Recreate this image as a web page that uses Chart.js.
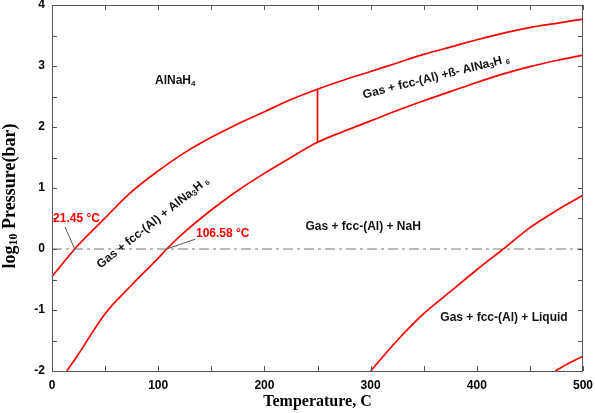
<!DOCTYPE html>
<html lang="en">
<head>
  <meta charset="UTF-8" />
  <title>AlNaH4 phase diagram</title>
  <script src="https://cdn.jsdelivr.net/npm/chart.js"></script>
  <style>
    body { margin: 0; background: #fff; }
    #wrap { width: 595px; height: 413px; }
  </style>
</head>
<body>
  <div id="wrap"><canvas id="chart" width="595" height="413"></canvas></div>

  <script>
    // boundary curves, temperature (C) vs log10 pressure (bar)
    const upperTemp = [0, 21.45, 25, 50, 75, 100, 125, 150, 175, 200, 225, 250, 275, 300, 325, 350, 375, 400, 425, 450, 475, 500];
    const upperLogP = [-0.45, 0, 0.07, 0.51, 0.94, 1.28, 1.58, 1.83, 2.05, 2.25, 2.45, 2.62, 2.77, 2.91, 3.05, 3.19, 3.31, 3.43, 3.54, 3.63, 3.70, 3.77];

    const lowerTemp = [14, 25, 50, 75, 100, 108, 125, 150, 175, 200, 225, 250, 275, 300, 325, 350, 375, 400, 425, 450, 475, 500];
    const lowerLogP = [-2.0, -1.72, -1.06, -0.59, -0.15, 0, 0.28, 0.64, 0.96, 1.24, 1.5, 1.75, 1.93, 2.1, 2.27, 2.43, 2.58, 2.73, 2.87, 2.99, 3.09, 3.18];

    const liquidTemp = [300, 325, 350, 375, 400, 425, 450, 475, 500];
    const liquidLogP = [-2.0, -1.5, -1.06, -0.7, -0.34, 0, 0.35, 0.63, 0.88];

    const cornerTemp = [474, 487, 500];
    const cornerLogP = [-2.0, -1.87, -1.76];

    const betaTemp = [250, 250];
    const betaLogP = [1.75, 2.62];

    const refTemp = [0, 500];
    const refLogP = [0, 0];

    const xTicks = [0, 100, 200, 300, 400, 500];
    const yTicks = [-2, -1, 0, 1, 2, 3, 4];

    // callouts: label anchor and leader line ends, in data units
    const callouts = [
      { text: "21.45 °C", at: [1, 0.49], from: [12.2, 0.36], to: [21.45, 0] },
      { text: "106.58 °C", at: [135.6, 0.25], from: [134.7, 0.16], to: [108, 0] }
    ];

    const pts = (xs, ys) => xs.map((x, i) => ({ x: x, y: ys[i] }));
    const RED = "#ff0000";
    const SANS = "'Liberation Sans', Arial, sans-serif";
    const SERIF = "'Liberation Serif', 'Times New Roman', serif";

    function curve(xs, ys) {
      return {
        data: pts(xs, ys),
        showLine: true,
        borderColor: RED,
        borderWidth: 1.7,
        pointRadius: 0,
        cubicInterpolationMode: "monotone"
      };
    }

    function drawRich(ctx, parts, x, y, angle, size, align) {
      ctx.save();
      ctx.translate(x, y);
      ctx.rotate(angle * Math.PI / 180);
      ctx.textBaseline = "middle";
      ctx.textAlign = "left";
      const widths = parts.map(p => {
        ctx.font = "bold " + (p.size || size) + "px " + (p.family || SANS);
        return ctx.measureText(p.t).width;
      });
      const total = widths.reduce((a, b) => a + b, 0);
      let cx = align === "left" ? 0 : -total / 2;
      parts.forEach((p, i) => {
        ctx.font = "bold " + (p.size || size) + "px " + (p.family || SANS);
        ctx.fillText(p.t, cx, p.dy || 0);
        cx += widths[i];
      });
      ctx.restore();
    }

    const decor = {
      id: "decor",
      afterDatasetsDraw(chart) {
        const { ctx, chartArea: a, scales: { x, y } } = chart;
        ctx.save();
        // frame
        ctx.strokeStyle = "#555";
        ctx.lineWidth = 1;
        ctx.strokeRect(a.left + 0.5, a.top + 0.5, a.right - a.left - 1, a.bottom - a.top);
        // inward ticks on all four sides
        ctx.beginPath();
        for (let v = x.min; v <= x.max; v += 50) {
          const px = Math.round(x.getPixelForValue(v)) + 0.5;
          ctx.moveTo(px, a.bottom); ctx.lineTo(px, a.bottom - 5);
          ctx.moveTo(px, a.top); ctx.lineTo(px, a.top + 5);
        }
        for (let v = y.min; v <= y.max; v += 0.5) {
          const py = Math.round(y.getPixelForValue(v)) + 0.5;
          ctx.moveTo(a.left, py); ctx.lineTo(a.left + 5, py);
          ctx.moveTo(a.right, py); ctx.lineTo(a.right - 5, py);
        }
        ctx.stroke();

        // leader lines
        ctx.strokeStyle = "#555";
        ctx.beginPath();
        callouts.forEach(c => {
          ctx.moveTo(x.getPixelForValue(c.from[0]), y.getPixelForValue(c.from[1]));
          ctx.lineTo(x.getPixelForValue(c.to[0]), y.getPixelForValue(c.to[1]));
        });
        ctx.stroke();

        // callout text
        ctx.fillStyle = RED;
        callouts.forEach(c => {
          drawRich(ctx, [{ t: c.text }], x.getPixelForValue(c.at[0]), y.getPixelForValue(c.at[1]), 0, 12, "left");
        });

        // phase region labels
        ctx.fillStyle = "#111";
        drawRich(ctx, [{ t: "AlNaH" }, { t: "4", size: 8, dy: 3 }],
          x.getPixelForValue(97), y.getPixelForValue(2.76), 0, 12, "left");
        drawRich(ctx, [{ t: "Gas + fcc-(Al) +ß- AlNa" }, { t: "3", size: 8, dy: 3 }, { t: "H " }, { t: "6", size: 7, dy: 3 }],
          x.getPixelForValue(361.6), y.getPixelForValue(2.82), -14, 12);
        drawRich(ctx, [{ t: "Gas + fcc-(Al) + AlNa" }, { t: "3", size: 8, dy: 3 }, { t: "H " }, { t: "6", size: 7, dy: 3 }],
          x.getPixelForValue(95), y.getPixelForValue(0.43), -38.5, 12);
        drawRich(ctx, [{ t: "Gas + fcc-(Al) + NaH" }],
          x.getPixelForValue(293), y.getPixelForValue(0.36), 0, 12);
        drawRich(ctx, [{ t: "Gas + fcc-(Al) + Liquid" }],
          x.getPixelForValue(425.6), y.getPixelForValue(-1.13), 0, 12);

        // axis titles
        ctx.fillStyle = "#000";
        drawRich(ctx, [{ t: "Temperature, C", family: SERIF }],
          (a.left + a.right) / 2, 402, 0, 16);
        drawRich(ctx, [{ t: "log", family: SERIF }, { t: "10", family: SERIF, size: 12, dy: 4 }, { t: " Pressure(bar)", family: SERIF }],
          10, 196, -90, 18);
        ctx.restore();
      }
    };

    const refLine = {
      data: pts(refTemp, refLogP),
      showLine: true,
      borderColor: "#777",
      borderWidth: 1.2,
      borderDash: [10, 4, 3, 4],
      pointRadius: 0
    };

    new Chart(document.getElementById("chart"), {
      type: "scatter",
      data: {
        datasets: [
          refLine,
          curve(upperTemp, upperLogP),
          curve(lowerTemp, lowerLogP),
          curve(liquidTemp, liquidLogP),
          curve(cornerTemp, cornerLogP),
          curve(betaTemp, betaLogP)
        ]
      },
      options: {
        responsive: false,
        animation: false,
        layout: { padding: { top: 5, right: 12, left: 0, bottom: 0 } },
        plugins: { legend: { display: false }, tooltip: { enabled: false } },
        scales: {
          x: {
            type: "linear",
            min: 0,
            max: 500,
            afterBuildTicks: s => { s.ticks = xTicks.map(v => ({ value: v })); },
            afterFit: s => { s.height = 42; s.paddingLeft = 0; s.paddingRight = 0; },
            grid: { display: false, drawTicks: false },
            border: { display: false },
            ticks: { color: "#000", padding: 7, maxRotation: 0, font: { family: SANS, size: 12, weight: "bold" } }
          },
          y: {
            type: "linear",
            min: -2,
            max: 4,
            afterBuildTicks: s => { s.ticks = yTicks.map(v => ({ value: v })); },
            afterFit: s => { s.width = 52; s.paddingTop = 0; s.paddingBottom = 0; },
            grid: { display: false, drawTicks: false },
            border: { display: false },
            ticks: { color: "#000", padding: 7, font: { family: SANS, size: 12, weight: "bold" } }
          }
        }
      },
      plugins: [decor]
    });
  </script>
</body>
</html>
